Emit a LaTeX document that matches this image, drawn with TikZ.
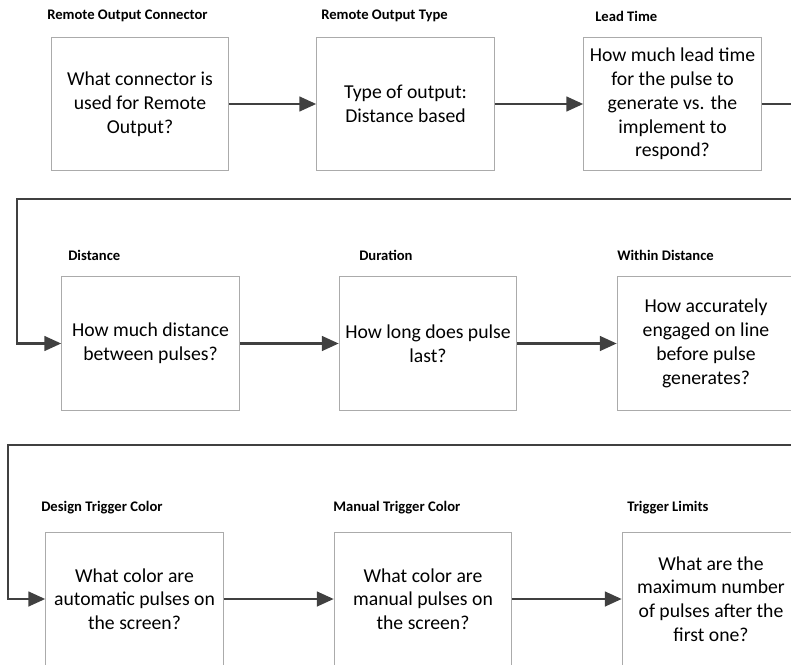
\documentclass[tikz,border=0pt]{standalone}
\usepackage{fontspec}
\setmainfont{Carlito}
\usetikzlibrary{arrows.meta}
\tikzset{
  qbox/.style={draw=black!33, line width=0.7pt, minimum width=4.44cm, minimum height=3.34cm, align=center, font=\fontsize{14}{16.9}\selectfont, inner sep=0pt},
  qlabel/.style={anchor=west, font=\bfseries\fontsize{10.4}{12}\selectfont, inner sep=0pt},
  link/.style={draw=black!75, line width=1.6pt},
  flow/.style={link, -{Triangle[length=12pt, width=10.5pt]}},
}

\begin{document}
\begin{tikzpicture}[x=0.025cm, y=-0.025cm]
\useasboundingbox (0,0) rectangle (791,665);
\node[qlabel] (connlab) at (47,16) {Remote Output Connector};
\node[qlabel] (typelab) at (321,16) {Remote Output Type};
\node[qlabel] (leadlab) at (595,16) {Lead Time};
\node[qlabel] (distlab) at (68,255) {Distance};
\node[qlabel] (durlab) at (359,255) {Duration};
\node[qlabel] (withinlab) at (617,255) {Within Distance};
\node[qlabel] (designlab) at (41,508) {Design Trigger Color};
\node[qlabel] (manuallab) at (333,508) {Manual Trigger Color};
\node[qlabel] (limitslab) at (627,508) {Trigger Limits};
\node[qbox] (conn) at (140,104) {What connector is\\used for Remote\\Output?};
\node[qbox] (type) at (405.5,104) {Type of output:\\Distance based};
\node[qbox] (lead) at (672.5,104) {How much lead time\\for the pulse to\\generate vs. the\\implement to\\respond?};
\node[qbox] (dist) at (150.5,343.5) {How much distance\\between pulses?};
\node[qbox] (dur) at (428,343.5) {How long does pulse\\last?};
\node[qbox] (within) at (706,343.5) {How accurately\\engaged on line\\before pulse\\generates?};
\node[qbox] (design) at (134.5,599) {What color are\\automatic pulses on\\the screen?};
\node[qbox] (manual) at (423,599) {What color are\\manual pulses on\\the screen?};
\node[qbox] (limits) at (711,599) {What are the\\maximum number\\of pulses after the\\first one?};
\coordinate (leadout) at (791,104);
\coordinate (back1) at (791,199);
\coordinate (turn1) at (17,199);
\coordinate (back2) at (791,445);
\coordinate (turn2) at (8,445);
\draw[flow] (conn) -- (type);
\draw[flow] (type) -- (lead);
\draw[link] (lead) -- (leadout);
\draw[flow] (back1) -- (turn1) |- (dist);
\draw[flow] (dist) -- (dur);
\draw[flow] (dur) -- (within);
\draw[flow] (back2) -- (turn2) |- (design);
\draw[flow] (design) -- (manual);
\draw[flow] (manual) -- (limits);
\end{tikzpicture}
\end{document}
